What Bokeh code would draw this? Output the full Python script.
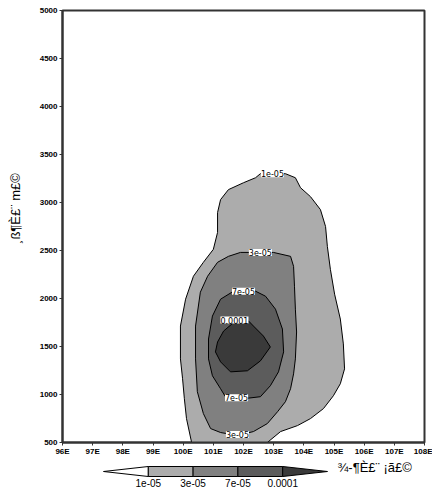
import math
from bokeh.plotting import figure
from bokeh.layouts import column, row
from bokeh.models import Range1d, FixedTicker
from bokeh.core.properties import value
from bokeh.embed import file_html
from bokeh.resources import INLINE

# ---------------- data ----------------
levels = ["1e-05", "3e-05", "7e-05", "0.0001"]
fill_colors = ["#ffffff", "#acacac", "#808080", "#5c5c5c", "#3a3a3a"]

lon_ticks = [96, 97, 98, 99, 100, 101, 102, 103, 104, 105, 106, 107, 108]
lon_tick_labels = ["96E", "97E", "98E", "99E", "100E", "101E", "102E",
                   "103E", "104E", "105E", "106E", "107E", "108E"]
height_ticks = [500, 1000, 1500, 2000, 2500, 3000, 3500, 4000, 4500, 5000]

x_title = "¾-¶È£¨ ¡ã£©"
y_title = "¸ß¶È£¨ m£©"

# contour 1e-05 (outermost)
c1_lon = [100.28, 100.11, 100.04, 99.98, 99.91, 99.91, 100.08, 100.34, 100.67,
          101.00, 101.14, 101.14, 101.24, 101.50, 102.00, 102.40, 102.56, 103.39,
          103.72, 103.89, 104.22, 104.55, 104.72, 104.78, 104.88, 105.02, 105.21,
          105.31, 105.35, 105.21, 104.98, 104.65, 104.22, 103.79, 103.23, 102.79]
c1_hgt = [500, 749, 956, 1164, 1371, 1713, 1993, 2232, 2377,
          2512, 2688, 2895, 3030, 3134, 3206, 3258, 3300, 3300,
          3258, 3154, 3061, 2926, 2750, 2543, 2304, 2045, 1786,
          1527, 1267, 1112, 987, 853, 749, 676, 614, 500]

# contour 3e-05
c3_lon = [101.50, 101.90, 102.99, 103.56, 103.66, 103.69, 103.72, 103.76, 103.72,
          103.66, 103.56, 103.39, 103.13, 102.79, 102.33, 101.80, 101.24, 100.91,
          100.67, 100.47, 100.41, 100.41, 100.57, 100.81, 101.14]
c3_hgt = [2439, 2480, 2480, 2439, 2335, 2128, 1889, 1651, 1371,
          1215, 1060, 925, 821, 697, 614, 573, 604, 645,
          801, 1029, 1371, 1713, 2066, 2232, 2377]

# contour 7e-05
c7_lon = [102.40, 102.73, 103.06, 103.29, 103.33, 103.16, 102.89, 102.56, 102.00,
          101.40, 101.24, 100.97, 100.84, 100.84, 100.97, 101.24, 101.67]
c7_hgt = [2076, 2024, 1889, 1682, 1444, 1236, 1091, 977, 956,
          977, 1060, 1195, 1371, 1578, 1817, 1993, 2076]

# contour 0.0001
c10_lon = [102.17, 102.33, 102.66, 102.89, 102.56, 102.13, 101.57, 101.24, 101.07,
           101.14, 101.34, 101.73]
c10_hgt = [1765, 1713, 1609, 1495, 1350, 1247, 1236, 1340, 1444,
           1547, 1661, 1765]

# contour labels
clabel_text = ["1e-05", "3e-05", "7e-05", "0.0001", "7e-05", "3e-05"]
clabel_lon = [102.96, 102.56, 102.00, 101.70, 101.77, 101.80]
clabel_hgt = [3300, 2480, 2076, 1775, 967, 583]

# ---------------- layout sizes ----------------
W, H = 432, 489
LAB_W = 24
MAIN_H = 458
CB_H = H - MAIN_H

# ---------------- y title strip ----------------
lab = figure(width=LAB_W, height=MAIN_H, x_range=Range1d(0, LAB_W), y_range=Range1d(MAIN_H, 0),
             output_backend="svg", toolbar_location=None,
             x_axis_location=None, y_axis_location=None,
             min_border_left=0, min_border_right=0, min_border_top=0, min_border_bottom=0)
lab.grid.visible = False
lab.outline_line_color = None
lab.text(x=[15], y=[210], text=[y_title], angle=math.pi / 2,
         text_font=value("Liberation Sans"), text_font_size="13px",
         text_align="center", text_baseline="middle", text_color="black")

# ---------------- main plot ----------------
p = figure(width=W - LAB_W, height=MAIN_H, x_range=Range1d(96, 108), y_range=Range1d(500, 5000),
           output_backend="svg", toolbar_location=None,
           min_border_left=62 - LAB_W, min_border_right=8, min_border_top=10, min_border_bottom=14)
p.background_fill_color = "white"
p.border_fill_color = "white"
p.grid.visible = False
p.outline_line_color = "#333333"
p.outline_line_width = 2

p.patches(xs=[c1_lon, c3_lon, c7_lon, c10_lon], ys=[c1_hgt, c3_hgt, c7_hgt, c10_hgt],
          fill_color=fill_colors[1:], line_color="black", line_width=1)

p.text(x=clabel_lon, y=clabel_hgt, text=clabel_text, text_font=value("DejaVu Sans"),
       text_font_size="8px", text_align="center", text_baseline="middle",
       text_color="black", background_fill_color="white")

for ax in (p.xaxis[0], p.yaxis[0]):
    ax.axis_line_color = "#333333"
    ax.axis_line_width = 2
    ax.major_tick_line_color = "#333333"
    ax.major_tick_out = 3
    ax.major_tick_in = 0
    ax.minor_tick_line_color = None
    ax.major_label_text_font = "Liberation Sans"
    ax.major_label_text_font_style = "bold"
    ax.major_label_text_font_size = "8px"
    ax.major_label_text_color = "black"

p.xaxis.ticker = FixedTicker(ticks=lon_ticks)
p.xaxis.major_label_overrides = {t: l for t, l in zip(lon_ticks, lon_tick_labels)}
p.xaxis.major_label_standoff = 1
p.yaxis.ticker = FixedTicker(ticks=height_ticks)
p.yaxis.major_label_standoff = 2

# ---------------- colour bar ----------------
cb = figure(width=W, height=CB_H, x_range=Range1d(0, W), y_range=Range1d(CB_H, 0),
            output_backend="svg", toolbar_location=None,
            x_axis_location=None, y_axis_location=None,
            min_border_left=0, min_border_right=0, min_border_top=0, min_border_bottom=0)
cb.grid.visible = False
cb.outline_line_color = None
cb.background_fill_color = "white"
cb.border_fill_color = "white"

seg = 44.8
x0 = 103.0
top, bot = 8.0, 18.0
mid = (top + bot) / 2
bx = [x0 + seg * (i + 1) for i in range(len(levels))]
xs = [[x0, bx[0], bx[0]]]
ys = [[mid, top, bot]]
for i in range(len(levels) - 1):
    xs.append([bx[i], bx[i + 1], bx[i + 1], bx[i]])
    ys.append([top, top, bot, bot])
xs.append([bx[-1], bx[-1], bx[-1] + seg])
ys.append([top, bot, mid])
cb.patches(xs=xs, ys=ys, fill_color=fill_colors, line_color="black", line_width=1)
cb.text(x=bx, y=[24.5] * len(levels), text=levels, text_font=value("Liberation Sans"),
        text_font_size="10px", text_align="center", text_baseline="middle",
        text_color="black")
cb.text(x=[337], y=[9], text=[x_title], text_font=value("Liberation Sans"),
        text_font_size="13px", text_align="left", text_baseline="middle",
        text_color="black")

layout = column(row(lab, p, spacing=0), cb, spacing=0)
open("out.html", "w").write(file_html(layout, INLINE))
